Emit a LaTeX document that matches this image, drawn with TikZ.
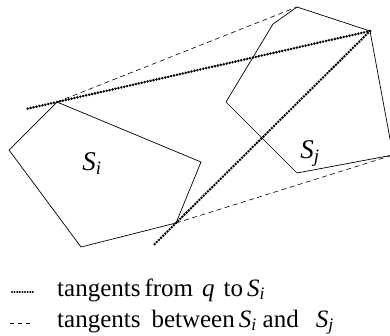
\documentclass[tikz,border=0pt]{standalone}
\usepackage{fontspec}
\setmainfont{Liberation Serif}
\usepackage{tikz}
\usetikzlibrary{calc,positioning}
\tikzset{
  poly/.style={draw=black, line width=0.7pt, line join=miter},
  qtan/.style={draw=black, line width=2.8pt, line cap=round,
    dash pattern=on 0pt off 3pt},
  stan/.style={draw=black, line width=0.6pt, dash pattern=on 5pt off 3.5pt},
  lbl/.style={font=\fontsize{27}{32}\selectfont, inner sep=0pt},
  legtext/.style={font=\fontsize{25}{30}\selectfont, inner sep=0pt, anchor=base west}
}
\newcommand{\setS}[1]{\textit{S}\textsubscript{\textit{#1}}}

\begin{document}
\begin{tikzpicture}[x=1pt, y=-1pt]
\clip (0,0) rectangle (390,335);
% polygon S_i
\coordinate (i1) at (57,102);
\coordinate (i2) at (201,162);
\coordinate (i3) at (176,223);
\coordinate (i4) at (81,247);
\coordinate (i5) at (9,150);
% polygon S_j
\coordinate (j1) at (297,7);
\coordinate (q) at (370,31);
\coordinate (j3) at (393,155);
\coordinate (j4) at (297,173);
\coordinate (j5) at (226,102);
\coordinate (j6) at (273,24);

\draw[poly] (i1) -- (i2) -- (i3) -- (i4) -- (i5) -- cycle;
\draw[poly] (j1) -- (q) -- (j3) -- (j4) -- (j5) -- (j6) -- cycle;

\node[lbl] (si) at (92,164) {\setS{i}};
\node[lbl] (sj) at (310,154) {\setS{j}};

% tangents between S_i and S_j
\draw[stan] (i1) -- (j1);
\draw[stan] (i3) -- (j3);

% tangents from q to S_i
\coordinate (qa) at ($(q)!1.096!(i1)$);
\coordinate (qc) at ($(q)!1.119!(i3)$);
\draw[qtan] (q) -- (qa);
\draw[qtan] (q) -- (qc);

% legend
\coordinate (d1) at (12,292);
\coordinate (d2) at (34,292);
\draw[draw=black, line width=2.2pt, line cap=round, dash pattern=on 0pt off 2.6pt] (d1) -- (d2);
\coordinate (e1) at (10,323);
\coordinate (e2) at (33,323);
\draw[draw=black, line width=0.6pt, dash pattern=on 4pt off 4pt] (e1) -- (e2);
\node[legtext] (leg1) at (57,296) {tangents\hspace{4pt}from\hspace{9pt}\textit{q}\hspace{9pt}to\hspace{4pt}\setS{i}};
\node[legtext] (leg2) at (57,327) {tangents\hspace{11pt}between\hspace{4pt}\setS{i}\hspace{6pt}and\hspace{17pt}\setS{j}};
\end{tikzpicture}
\end{document}
